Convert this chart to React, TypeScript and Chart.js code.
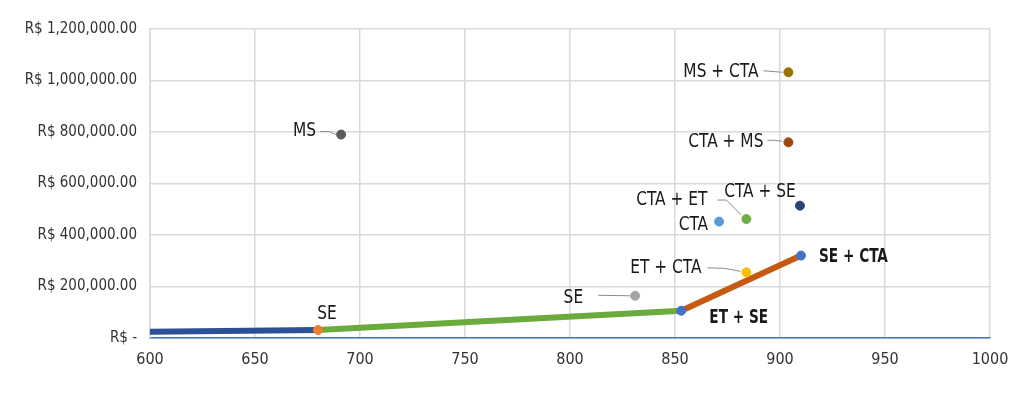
import React, { useEffect, useRef } from "react";
import { Chart, registerables } from "chart.js";

Chart.register(...registerables);

// ---- Data ----
const pointNames = ["MS", "SE", "SE", "ET + SE", "SE + CTA", "ET + CTA", "CTA", "CTA + ET", "CTA + SE", "CTA + MS", "MS + CTA"];
const pointX = [691, 680, 831, 853, 910, 884, 871, 884, 909.5, 904, 904];
const pointY = [790000, 31000, 164000, 106000, 320000, 255000, 452000, 462000, 514000, 760000, 1032000];
const pointColors = ["#5a5a5a", "#ED7D31", "#A5A5A5", "#4472C4", "#4472C4", "#FFC000", "#5B9BD5", "#70AD47", "#264478", "#9E480E", "#997300"];

const blueLineX = [600, 680];
const blueLineY = [24000, 31000];
const greenLineX = [680, 853];
const greenLineY = [31000, 106000];
const orangeLineX = [853, 910];
const orangeLineY = [106000, 320000];

const xTickMin = 600;
const xTickMax = 1000;
const xTickStep = 50;
const yTickMin = 0;
const yTickMax = 1200000;
const yTickStep = 200000;

// ---- Label styles (offsets from the point in px) ----
type LabelStyle = { dx: number; dy: number; align: CanvasTextAlign; bold?: boolean; leader?: number[][] };
const labelStyles: LabelStyle[] = [
  { dx: -25, dy: -4, align: "right", leader: [[-21, -3], [-12, -3], [-5, 0]] },
  { dx: 9, dy: -16, align: "center" },
  { dx: -52, dy: 2, align: "right", leader: [[-37, -0.5], [-5, 0]] },
  { dx: 28, dy: 7, align: "left", bold: true },
  { dx: 18, dy: 1, align: "left", bold: true },
  { dx: -45, dy: -4, align: "right", leader: [[-39, -4.5], [-22, -4], [-6, -1]] },
  { dx: -11, dy: 3, align: "right" },
  { dx: -39, dy: -19, align: "right", leader: [[-29, -19], [-20, -19], [-5, -4]] },
  { dx: -40, dy: -14, align: "center" },
  { dx: -25, dy: 0, align: "right", leader: [[-21, -2], [-14, -2], [-6, -1]] },
  { dx: -30, dy: 0, align: "right", leader: [[-25, -1.5], [-6, 0]] },
];

const FONT = '"Liberation Sans Narrow", "DejaVu Sans Condensed", "Roboto", sans-serif';

const toXY = (xs: number[], ys: number[]) => xs.map((x, i) => ({ x, y: ys[i] }));

const labelPlugin = {
  id: "pointLabels",
  afterDatasetsDraw(chart: any) {
    const ctx = chart.ctx as CanvasRenderingContext2D;
    const meta = chart.getDatasetMeta(0);
    ctx.save();
    meta.data.forEach((el: any, i: number) => {
      const st = labelStyles[i];
      if (!st) return;
      const px = el.x;
      const py = el.y;
      if (st.leader) {
        ctx.beginPath();
        ctx.strokeStyle = "#8c8c8c";
        ctx.lineWidth = 1;
        st.leader.forEach(([lx, ly], k) => {
          if (k === 0) ctx.moveTo(px + lx, py + ly);
          else ctx.lineTo(px + lx, py + ly);
        });
        ctx.stroke();
      }
      const sx = st.bold ? 0.8 : 0.9;
      ctx.save();
      ctx.translate(px + st.dx, py + st.dy);
      ctx.scale(sx, 1);
      ctx.font = `${st.bold ? "bold " : ""}19px ${FONT}`;
      ctx.fillStyle = "#1a1a1a";
      ctx.textAlign = st.align;
      ctx.textBaseline = "middle";
      ctx.fillText(pointNames[i], 0, 0);
      ctx.restore();
    });
    ctx.restore();
  },
};

export default function App() {
  const canvasRef = useRef<HTMLCanvasElement | null>(null);

  useEffect(() => {
    if (!canvasRef.current) return;
    const chart = new Chart(canvasRef.current, {
      type: "scatter",
      data: {
        datasets: [
          {
            label: "points",
            data: toXY(pointX, pointY),
            backgroundColor: pointColors,
            borderColor: pointColors,
            borderWidth: 1,
            pointRadius: 4.5,
            showLine: false,
          },
          {
            label: "blue",
            data: toXY(blueLineX, blueLineY),
            showLine: true,
            borderColor: "#2C5095",
            borderWidth: 6,
            pointRadius: 0,
          },
          {
            label: "green",
            data: toXY(greenLineX, greenLineY),
            showLine: true,
            borderColor: "#6BAA3C",
            borderWidth: 6,
            pointRadius: 0,
          },
          {
            label: "orange",
            data: toXY(orangeLineX, orangeLineY),
            showLine: true,
            borderColor: "#C55A11",
            borderWidth: 6,
            pointRadius: 0,
          },
        ],
      } as any,
      options: {
        responsive: false,
        animation: false,
        layout: { padding: { top: 29, right: 34, left: 0, bottom: 0 } },
        plugins: { legend: { display: false }, tooltip: { enabled: false } },
        scales: {
          x: {
            type: "linear",
            min: xTickMin,
            max: xTickMax,
            afterFit: (s: any) => {
              s.height = 55;
            },
            ticks: {
              stepSize: xTickStep,
              padding: 12,
              color: "#333333",
              font: { family: FONT, size: 16 },
              callback: (v: any) => String(v),
            },
            grid: { color: "#d9d9d9", lineWidth: 1.5, drawTicks: false },
            border: { color: "#4472C4", width: 1.5 },
          },
          y: {
            type: "linear",
            min: yTickMin,
            max: yTickMax,
            afterFit: (s: any) => {
              s.width = 150;
            },
            ticks: {
              stepSize: yTickStep,
              padding: 13,
              color: "#333333",
              font: { family: FONT, size: 15 },
              callback: (v: any) =>
                Number(v) === 0
                  ? "R$ -"
                  : "R$ " + Number(v).toLocaleString("en-US", { minimumFractionDigits: 2, maximumFractionDigits: 2 }),
            },
            grid: { color: "#d9d9d9", lineWidth: 1.5, drawTicks: false },
            border: { color: "#d9d9d9", width: 1.5 },
          },
        },
      },
      plugins: [labelPlugin],
    });
    return () => chart.destroy();
  }, []);

  return (
    <div style={{ position: "absolute", left: 0, top: 0, width: 1024, height: 393, background: "#fff" }}>
      <canvas ref={canvasRef} width={1024} height={393} />
    </div>
  );
}
